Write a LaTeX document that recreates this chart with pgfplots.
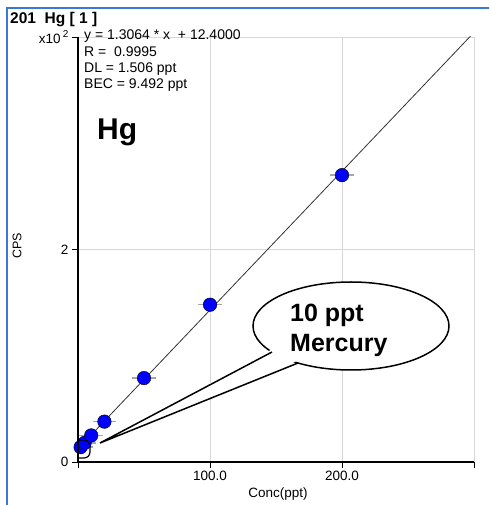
\documentclass[border=0pt]{standalone}
\usepackage{pgfplots}
\pgfplotsset{compat=1.18}
\usepackage{fontspec}
\setmainfont{Liberation Sans}
\definecolor{frameblue}{RGB}{60,120,215}
\definecolor{gridgray}{RGB}{215,215,215}

\begin{document}
\begin{tikzpicture}
  % page = 489 x 505 px, axis box lower-left at pixel (78,462)
  \path[use as bounding box, fill=white] (-78pt,-43pt) rectangle (411pt,462pt);
  \draw[frameblue, line width=1.4pt] (-71pt,-43pt) -- (-71pt,454pt) -- (411pt,454pt);

  \begin{axis}[
    at={(0pt,0pt)}, anchor=south west,
    width=396pt, height=425pt, scale only axis,
    xmin=0, xmax=300, ymin=0, ymax=400,
    axis line style={draw=none},
    xtick={0,100,200,300}, xticklabels={,100.0,200.0,},
    ytick={0,200,400}, yticklabels={0,2,{x10\,\raisebox{0.45em}{\fontsize{10}{10}\selectfont 2}}},
    xtick pos=bottom, ytick pos=left,
    tick align=outside, major tick length=6pt,
    tick style={black, line width=0.8pt},
    grid=major, major grid style={gridgray, line width=0.9pt},
    ticklabel style={font=\fontsize{13.5}{13.5}\selectfont},
    /pgf/number format/assume math mode=true,
  ]
    % calibration line
    \addplot[black!80, line width=0.8pt] coordinates {(0,12.4) (300,404.3)};
    % standards
    \addplot[only marks, mark=*, mark size=6.8pt,
      mark options={fill=blue, draw=none},
      error bars/.cd, x dir=both, x fixed=9,
      error bar style={gray!70, line width=1.3pt}, error mark=none]
      coordinates {
        (2,14) (5,18) (10,25) (20,38) (50,79) (100,148) (200,270)
      };
  \end{axis}

  % axis lines
  \draw[black, line width=1.5pt] (0pt,425pt) -- (0pt,0pt) -- (396pt,0pt);

  % blank highlight near origin
  \draw[black, line width=1.2pt] (0pt,22pt) -- (7pt,22pt) to[out=0,in=90] (12pt,16pt)
    -- (12pt,10pt) to[out=-90,in=0] (6pt,4pt) -- (0pt,4pt);

  % callout
  \draw[black, line width=1.5pt, fill=white] (273pt,136pt) ellipse [x radius=98pt, y radius=44pt];
  \fill[white] (200pt,116pt) -- (22pt,19pt) -- (226pt,104pt) -- (230pt,118pt) -- cycle;
  \draw[black, line width=1.5pt] (194pt,110pt) -- (22pt,19pt) -- (220pt,99pt);
  \node[anchor=base west, inner sep=0pt, font=\fontsize{25}{25}\selectfont\bfseries] at (212pt,140pt) {10 ppt};
  \node[anchor=base west, inner sep=0pt, font=\fontsize{25}{25}\selectfont\bfseries] at (212pt,110pt) {Mercury};

  % texts
  \node[anchor=west, inner sep=0pt, font=\fontsize{15.5}{15.5}\selectfont\bfseries] at (-68pt,442pt) {201\ \ Hg [ 1 ]};
  \node[anchor=north west, inner sep=0pt, align=left, font=\fontsize{14}{16.3}\selectfont] at (6pt,432pt)
    {y = 1.3064 * x \ + 12.4000\\R = \ 0.9995\\DL = 1.506 ppt\\BEC = 9.492 ppt};
  \node[anchor=base west, inner sep=0pt, font=\fontsize{30}{30}\selectfont\bfseries] at (19pt,322pt) {Hg};
  \node[rotate=90, inner sep=0pt, font=\fontsize{12.5}{12.5}\selectfont] at (-61pt,216pt) {CPS};
  \node[inner sep=0pt, font=\fontsize{13.5}{13.5}\selectfont] at (200pt,-32pt) {Conc(ppt)};
\end{tikzpicture}
\end{document}
